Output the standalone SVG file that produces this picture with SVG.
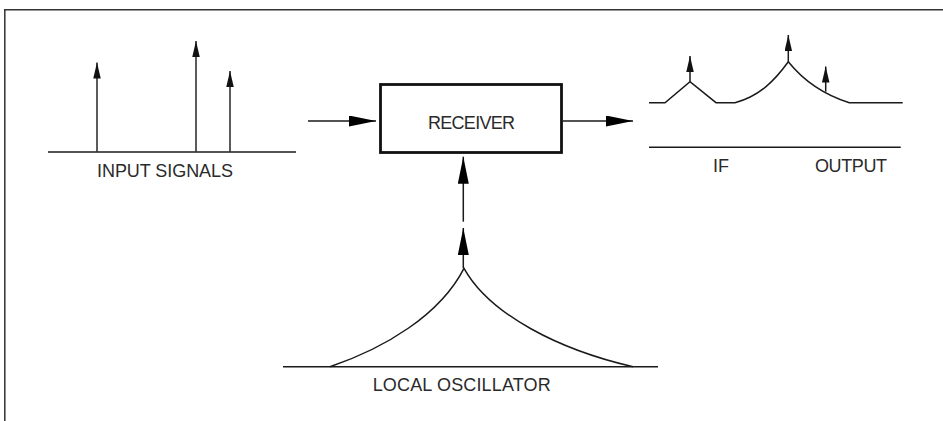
<svg xmlns="http://www.w3.org/2000/svg" width="943" height="421" viewBox="0 0 943 421">
<style>
.ln{fill:none;stroke:#1a1a1a;stroke-width:1.5}
.sig{fill:none;stroke:#333;stroke-width:1.6}
.lbl{font-family:"Liberation Sans",Arial,sans-serif;font-size:18px;fill:#2a2a2a}
.frame{fill:none;stroke:#333;stroke-width:1.5}
</style>
<defs>
<marker id="sm" markerUnits="userSpaceOnUse" markerWidth="17" markerHeight="8" refX="16" refY="3.75" orient="auto">
<path d="M0,0 L16,3.75 L0,7.5 z" fill="#111"/>
</marker>
<marker id="big" markerUnits="userSpaceOnUse" markerWidth="29" markerHeight="12" refX="27" refY="5.5" orient="auto">
<path d="M0,0 L27,5.5 L0,11 z" fill="#000"/>
</marker>
</defs>
<rect width="943" height="421" fill="#fff"/>
<path class="frame" d="M4,9.7 H943 M4.8,9 V421"/>

<g id="input-signals">
<line class="ln" x1="48" y1="152" x2="296" y2="152"/>
<line class="sig" x1="97" y1="152" x2="97" y2="62.5" marker-end="url(#sm)"/>
<line class="sig" x1="196" y1="152" x2="196" y2="41" marker-end="url(#sm)"/>
<line class="sig" x1="230" y1="152" x2="230" y2="71" marker-end="url(#sm)"/>
<text class="lbl" x="97" y="176.5" textLength="136">INPUT SIGNALS</text>
</g>

<g id="receiver">
<rect x="380.5" y="84.5" width="181" height="68" fill="#fff" stroke="#111" stroke-width="2.8"/>
<text class="lbl" x="428" y="128.5" textLength="87">RECEIVER</text>
</g>

<g id="if-output">
<path class="ln" d="M649,102.7 H665 L690,81.7 L716,102.7 H735 C760,96 775,80 788.3,61.7 C803,80 825,95 849.3,102.7 H902.7"/>
<line class="ln" x1="690" y1="81.7" x2="690" y2="56" marker-end="url(#sm)"/>
<line class="ln" x1="788.3" y1="61.7" x2="788.3" y2="35" marker-end="url(#sm)"/>
<line class="ln" x1="825.7" y1="91.7" x2="825.7" y2="66.5" marker-end="url(#sm)"/>
<line class="ln" x1="649" y1="147.3" x2="900.7" y2="147.3"/>
<text class="lbl" x="713" y="172">IF</text>
<text class="lbl" x="815" y="172" textLength="72">OUTPUT</text>
</g>

<g id="local-oscillator">
<line class="ln" x1="283" y1="366.7" x2="658" y2="366.7"/>
<path class="ln" d="M330,366.7 C385,348 440,315 464,268.3 C490,315 560,350 633,366.7"/>
<text class="lbl" x="372.7" y="390.5" textLength="178">LOCAL OSCILLATOR</text>
</g>

<g id="connectors">
<line class="ln" x1="308" y1="121" x2="376" y2="121" marker-end="url(#big)"/>
<line class="ln" x1="562.7" y1="121" x2="633" y2="121" marker-end="url(#big)"/>
<line class="ln" x1="463.3" y1="268.3" x2="463.3" y2="228" marker-end="url(#big)"/>
<line class="ln" x1="463.3" y1="221.7" x2="463.3" y2="156.7" marker-end="url(#big)"/>
</g>
</svg>
